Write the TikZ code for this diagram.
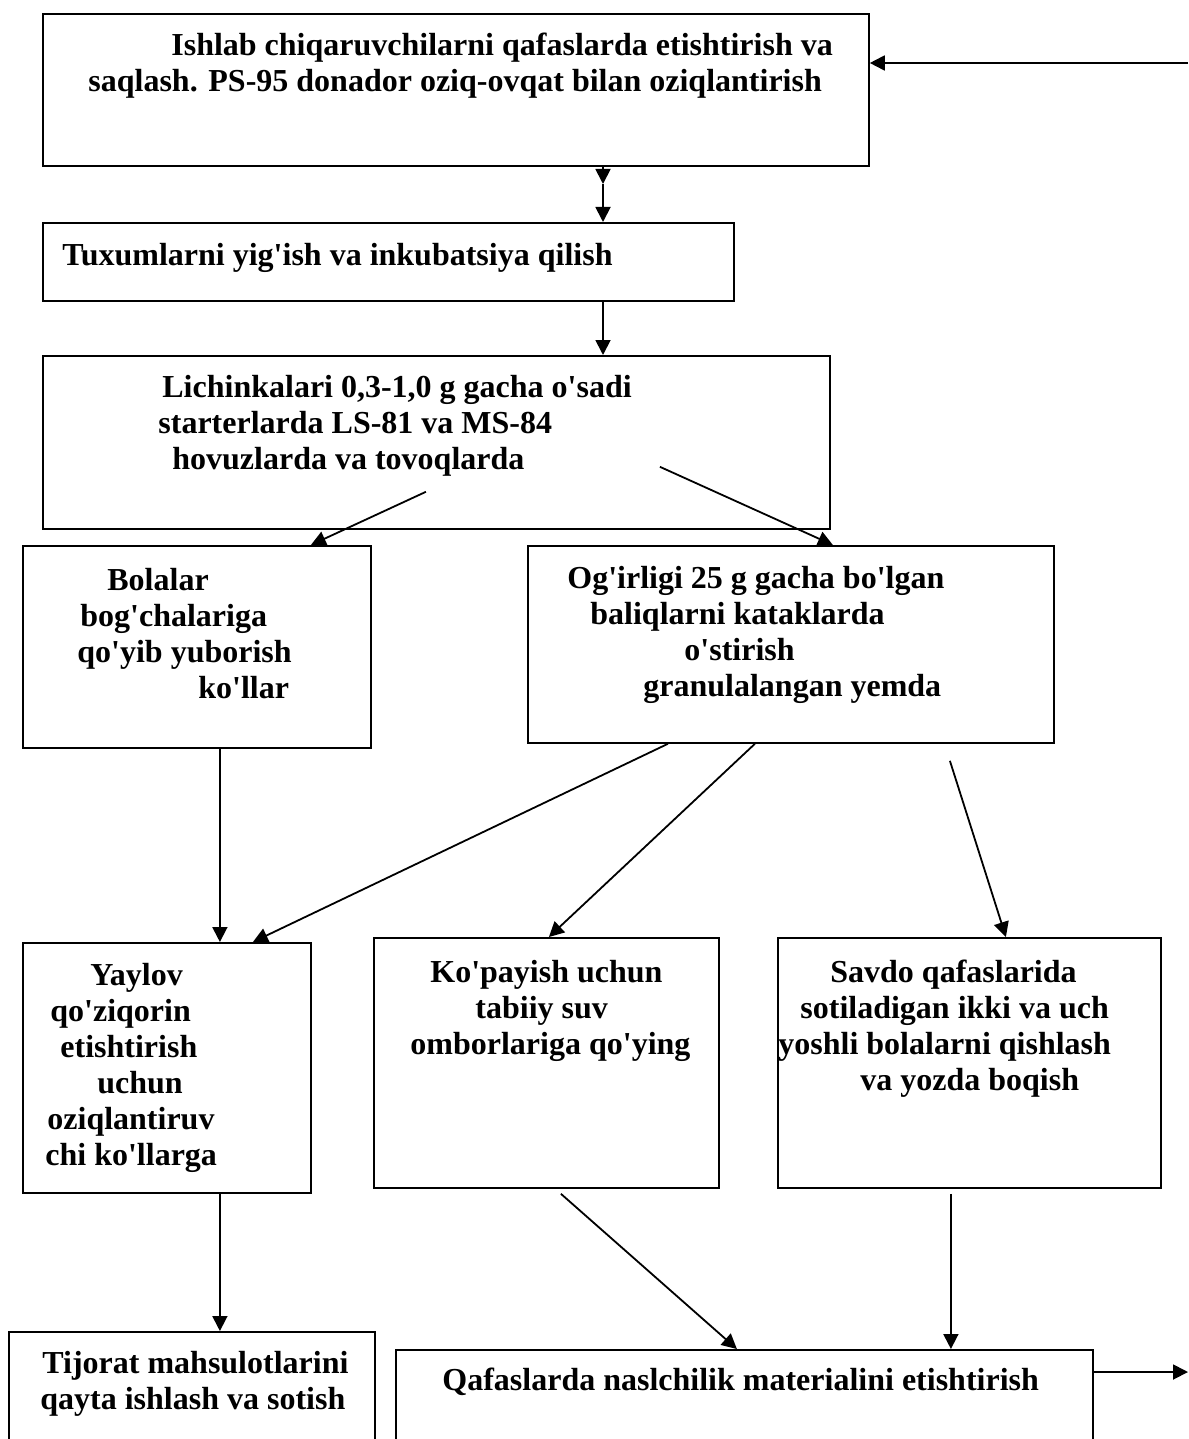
\documentclass[tikz,border=0pt]{standalone}
\usepackage{fontspec}
\setmainfont{Liberation Serif}
\usetikzlibrary{arrows.meta}
\newcommand{\ap}{\textquotesingle}
\tikzset{
  box/.style = {draw, line width=0.9pt, rectangle, inner sep=0pt, anchor=north west},
  txt/.style = {font=\fontsize{16}{18}\selectfont\bfseries, align=left, inner sep=0pt, anchor=north west},
  arr/.style = {line width=0.9pt, -{Triangle[length=7.5pt,width=7.5pt]}}
}

\begin{document}
\begin{tikzpicture}[x=0.5pt,y=-0.5pt]
\clip (0,0) rectangle (1188,1439);
% boxes
\node[box, minimum width=413pt, minimum height=76pt] (top) at (42,13) {};
\node[box, minimum width=345.5pt, minimum height=39pt] (tux) at (42,222) {};
\node[box, minimum width=393.5pt, minimum height=86.5pt] (lich) at (42,355) {};
\node[box, minimum width=174pt, minimum height=101pt] (bola) at (22,545) {};
\node[box, minimum width=263pt, minimum height=98.5pt] (ogir) at (527,545) {};
\node[box, minimum width=144pt, minimum height=125pt] (yay) at (22,942) {};
\node[box, minimum width=172.5pt, minimum height=125pt] (kop) at (373,937) {};
\node[box, minimum width=191.5pt, minimum height=125pt] (savdo) at (777,937) {};
\node[box, minimum width=183pt, minimum height=80pt] (tij) at (8,1331) {};
\node[box, minimum width=348.5pt, minimum height=80pt] (qaf) at (395,1349) {};
% texts
\node[txt] (toptxt) at (88,30) {\strut\hspace*{41.5pt}Ishlab chiqaruvchilarni qafaslarda etishtirish va\\
  saqlash. PS-95 donador oziq-ovqat bilan oziqlantirish};
\node[txt] (tuxtxt) at (62,240) {\strut Tuxumlarni yig\ap ish va inkubatsiya qilish};
\node[txt] (lichtxt) at (158,372) {\strut\hspace*{2pt}Lichinkalari 0,3-1,0 g gacha o\ap sadi\\
  starterlarda LS-81 va MS-84\\
  \hspace*{7pt}hovuzlarda va tovoqlarda};
\node[txt] (bolatxt) at (77,565) {\strut\hspace*{15pt}Bolalar\\
  \hspace*{1.5pt}bog\ap chalariga\\
  qo\ap yib yuborish\\
  \hspace*{60.5pt}ko\ap llar};
\node[txt] (ogirtxt) at (567,563) {\strut Og\ap irligi 25 g gacha bo\ap lgan\\
  \hspace*{11.5pt}baliqlarni kataklarda\\
  \hspace*{58.5pt}o\ap stirish\\
  \hspace*{38pt}granulalangan yemda};
\node[txt] (yaytxt) at (45,960) {\strut\hspace*{22.5pt}Yaylov\\
  \hspace*{2.5pt}qo\ap ziqorin\\
  \hspace*{7.5pt}etishtirish\\
  \hspace*{26pt}uchun\\
  \hspace*{1pt}oziqlantiruv\\
  chi ko\ap llarga};
\node[txt] (koptxt) at (410,957) {\strut\hspace*{10pt}Ko\ap payish uchun\\
  \hspace*{32.5pt}tabiiy suv\\
  omborlariga qo\ap ying};
\node[txt] (savdotxt) at (778,957) {\strut\hspace*{26pt}Savdo qafaslarida\\
  \hspace*{11pt}sotiladigan ikki va uch\\
  yoshli bolalarni qishlash\\
  \hspace*{41pt}va yozda boqish};
\node[txt] (tijtxt) at (40,1348) {\strut\hspace*{1pt}Tijorat mahsulotlarini\\
  qayta ishlash va sotish};
\node[txt] (qaftxt) at (442,1365) {\strut Qafaslarda naslchilik materialini etishtirish};
% free ends
\coordinate (topin) at (1188,63);
\coordinate (mid) at (603,184);
\coordinate (qout) at (1188,1372);
% connectors
\draw[arr] (topin) -- (topin -| top.east);
\draw[arr] (mid |- top.south) -- (mid);
\draw[arr] (mid) -- (mid |- tux.north);
\draw[arr] (mid |- tux.south) -- (mid |- lich.north);
\draw[arr] ([shift={(-10.5,-38)}]lich.south) -- ([xshift=57pt]bola.north);
\draw[arr] ([shift={(223.5,-63)}]lich.south) -- ([xshift=21pt]ogir.north);
\draw[arr] ([xshift=11.5pt]bola.south) -- ([xshift=26.5pt]yay.north);
\draw[arr] ([xshift=-61.5pt]ogir.south) -- ([xshift=43pt]yay.north);
\draw[arr] ([xshift=-18pt]ogir.south) -- ([xshift=1.25pt]kop.north);
\draw[arr] ([shift={(159,17)}]ogir.south) -- ([xshift=18.25pt]savdo.north);
\draw[arr] ([xshift=26.5pt]yay.south) -- ([xshift=14pt]tij.north);
\draw[arr] ([shift={(14.5,5)}]kop.south) -- ([xshift=-3.75pt]qaf.north);
\draw[arr] ([shift={(-18.5,5)}]savdo.south) -- ([xshift=103.25pt]qaf.north);
\draw[arr] (qout -| qaf.east) -- (qout);
\end{tikzpicture}
\end{document}
